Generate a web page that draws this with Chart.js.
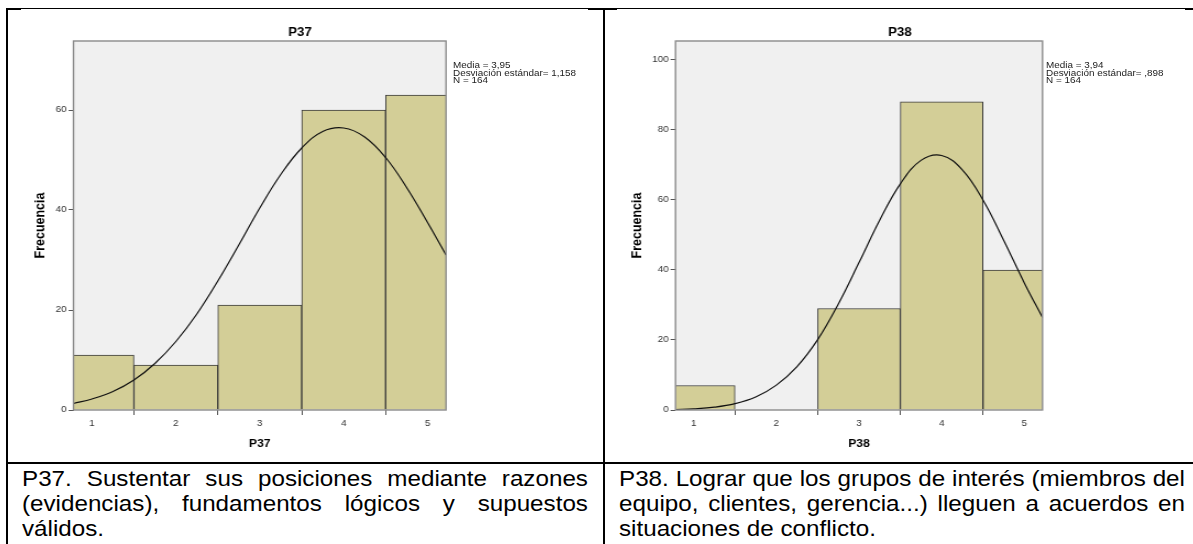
<!DOCTYPE html>
<html lang="es">
<head>
<meta charset="utf-8">
<title>P37 / P38</title>
<script src="https://cdn.jsdelivr.net/npm/chart.js@4.4.1/dist/chart.umd.min.js"></script>
<style>
  html, body { margin: 0; padding: 0; background: #fff; }
  body { width: 1193px; height: 544px; position: relative; overflow: hidden; font-family: "Liberation Sans", Arial, sans-serif; }
  .rule { position: absolute; background: #000; }
  /* the source picture is a bit wider than tall, so text and charts are stretched 1.1x */
  .wide { transform: scaleX(1.1); transform-origin: 0 0; }
  canvas { position: absolute; }
  .stats { position: absolute; font-size: 9px; line-height: 7.5px; color: #222; white-space: nowrap; }
  .caption { position: absolute; top: 465.6px; width: 514.5px; font-size: 22px; line-height: 25.3px; color: #000; }
  .caption div { text-align: justify; text-align-last: justify; white-space: nowrap; }
  .caption div.last { text-align-last: left; }
</style>
</head>
<body>
  <!-- table borders -->
  <div class="rule" style="left:7px; top:8px; width:1186px; height:1px;"></div>
  <div class="rule" style="left:6px; top:8px; width:15px; height:2px;"></div>
  <div class="rule" style="left:588px; top:8px; width:29px; height:2px;"></div>
  <div class="rule" style="left:1185px; top:8px; width:8px; height:2px;"></div>
  <div class="rule" style="left:6px; top:8px; width:2px; height:536px;"></div>
  <div class="rule" style="left:603px; top:8px; width:2px; height:536px;"></div>
  <div class="rule" style="left:6px; top:462px; width:1187px; height:2px;"></div>

  <canvas id="chartP37" class="wide" width="540" height="450" style="left:8px; top:10px;"></canvas>
  <canvas id="chartP38" class="wide" width="533" height="450" style="left:606px; top:10px;"></canvas>

  <div class="stats wide" style="left:453px; top:62px;">Media = 3,95<br>Desviación estándar= 1,158<br>N = 164</div>
  <div class="stats wide" style="left:1046px; top:62px;">Media = 3,94<br>Desviación estándar= ,898<br>N = 164</div>

  <div class="caption wide" style="left:22px;">
    <div>P37. Sustentar sus posiciones mediante razones</div>
    <div>(evidencias), fundamentos lógicos y supuestos</div>
    <div class="last">válidos.</div>
  </div>
  <div class="caption wide" style="left:619px;">
    <div>P38. Lograr que los grupos de interés (miembros del</div>
    <div>equipo, clientes, gerencia...) lleguen a acuerdos en</div>
    <div class="last">situaciones de conflicto.</div>
  </div>

<script>
// histogram bins (response values 1..5) and frequencies
const binCenters = [1, 2, 3, 4, 5];
const xTicks = [1, 2, 3, 4, 5];
const p37Counts = [11, 9, 21, 60, 63];
const p38Counts = [7, 0, 29, 88, 40];
const p37YTicks = [0, 20, 40, 60];
const p38YTicks = [0, 20, 40, 60, 80, 100];

// normal curve overlay
const curveX = [0.78, 1, 1.25, 1.5, 1.75, 2, 2.25, 2.5, 2.75, 3, 3.25, 3.5, 3.75, 4, 4.25, 4.5, 4.75, 5, 5.22];
const p37Curve = [1.3, 2.2, 3.7, 6.0, 9.3, 13.7, 19.2, 25.8, 33.0, 40.4, 47.1, 52.4, 55.7, 56.4, 54.6, 50.5, 44.5, 37.5, 31.0];
const p38Curve = [0.15, 0.34, 0.8, 1.8, 3.7, 7.1, 12.4, 20.1, 30.3, 42.1, 54.2, 64.6, 71.3, 72.7, 68.6, 60.0, 48.5, 36.3, 26.4];

Chart.defaults.font.family = '"Liberation Sans", Arial, sans-serif';
Chart.defaults.animation = false;

const plotFrame = {
  id: 'plotFrame',
  beforeDraw(chart) {
    const { ctx, chartArea: a } = chart;
    ctx.save();
    ctx.fillStyle = '#f0f0f0';
    ctx.fillRect(a.left, a.top, a.right - a.left, a.bottom - a.top);
    ctx.restore();
  },
  afterDatasetsDraw(chart) {
    const { ctx, chartArea: a } = chart;
    ctx.save();
    ctx.strokeStyle = '#8a8a8a';
    ctx.lineWidth = 1.4;
    ctx.strokeRect(a.left, a.top, a.right - a.left, a.bottom - a.top);
    ctx.restore();
  }
};

function histogram(id, title, counts, curve, yTicks, yMax, geo) {
  return new Chart(document.getElementById(id), {
    type: 'bar',
    data: {
      datasets: [
        {
          type: 'line',
          data: curveX.map((x, i) => ({ x, y: curve[i] })),
          borderColor: '#111',
          borderWidth: 1.2,
          pointRadius: 0,
          tension: 0.4,
          clip: 0.5,
          order: 0,
          yAxisID: 'y'
        },
        {
          type: 'bar',
          data: binCenters.map((x, i) => ({ x, y: counts[i] })),
          backgroundColor: '#d3ce97',
          borderColor: '#3a3a3a',
          borderWidth: 1,
          barPercentage: 1,
          categoryPercentage: 1,
          clip: 0,
          order: 1,
          yAxisID: 'y'
        }
      ]
    },
    options: {
      responsive: false,
      layout: { padding: { left: geo.padLeft, right: geo.padRight, top: 5, bottom: 9.4 } },
      plugins: {
        legend: { display: false },
        tooltip: { enabled: false },
        title: {
          display: true,
          text: title,
          color: '#000',
          font: { size: 12, weight: 'bold' },
          padding: { top: 10.8, bottom: 0.8 }
        }
      },
      scales: {
        x: {
          type: 'linear',
          min: 0.78,
          max: 5.22,
          offset: false,
          afterBuildTicks: s => { s.ticks = xTicks.map(v => ({ value: v })); },
          afterFit: s => { s.height = geo.xHeight; },
          grid: { drawOnChartArea: false, tickLength: 5, tickColor: '#555' },
          border: { display: false },
          ticks: { color: '#333', font: { size: 9 }, padding: 3, maxRotation: 0 },
          title: { display: true, text: title, color: '#000', font: { size: 11, weight: 'bold' }, padding: 0 }
        },
        y: {
          min: 0,
          max: yMax,
          afterBuildTicks: s => { s.ticks = yTicks.map(v => ({ value: v })); },
          afterFit: s => { s.width = geo.yWidth; },
          grid: { drawOnChartArea: false, tickLength: 4.5, tickColor: '#555' },
          border: { display: false },
          ticks: { color: '#333', font: { size: 9 }, padding: 1.8 },
          title: { display: true, text: 'Frecuencia', color: '#000', font: { size: 12.5, weight: 'bold' }, padding: 0 }
        },
        yr: {
          position: 'right',
          grid: { display: false },
          border: { display: false },
          ticks: { display: false },
          afterFit: s => { s.width = geo.rightWidth; }
        }
      }
    },
    plugins: [plotFrame]
  });
}

histogram('chartP37', 'P37', p37Counts, p37Curve, p37YTicks, 73.8,
  { padLeft: 22.2, padRight: 31.3, yWidth: 37.35, rightWidth: 110.5, xHeight: 40.6 });
histogram('chartP38', 'P38', p38Counts, p38Curve, p38YTicks, 105.4,
  { padLeft: 20.7, padRight: 19.2, yWidth: 42.5, rightWidth: 117, xHeight: 40.6 });
</script>
</body>
</html>
